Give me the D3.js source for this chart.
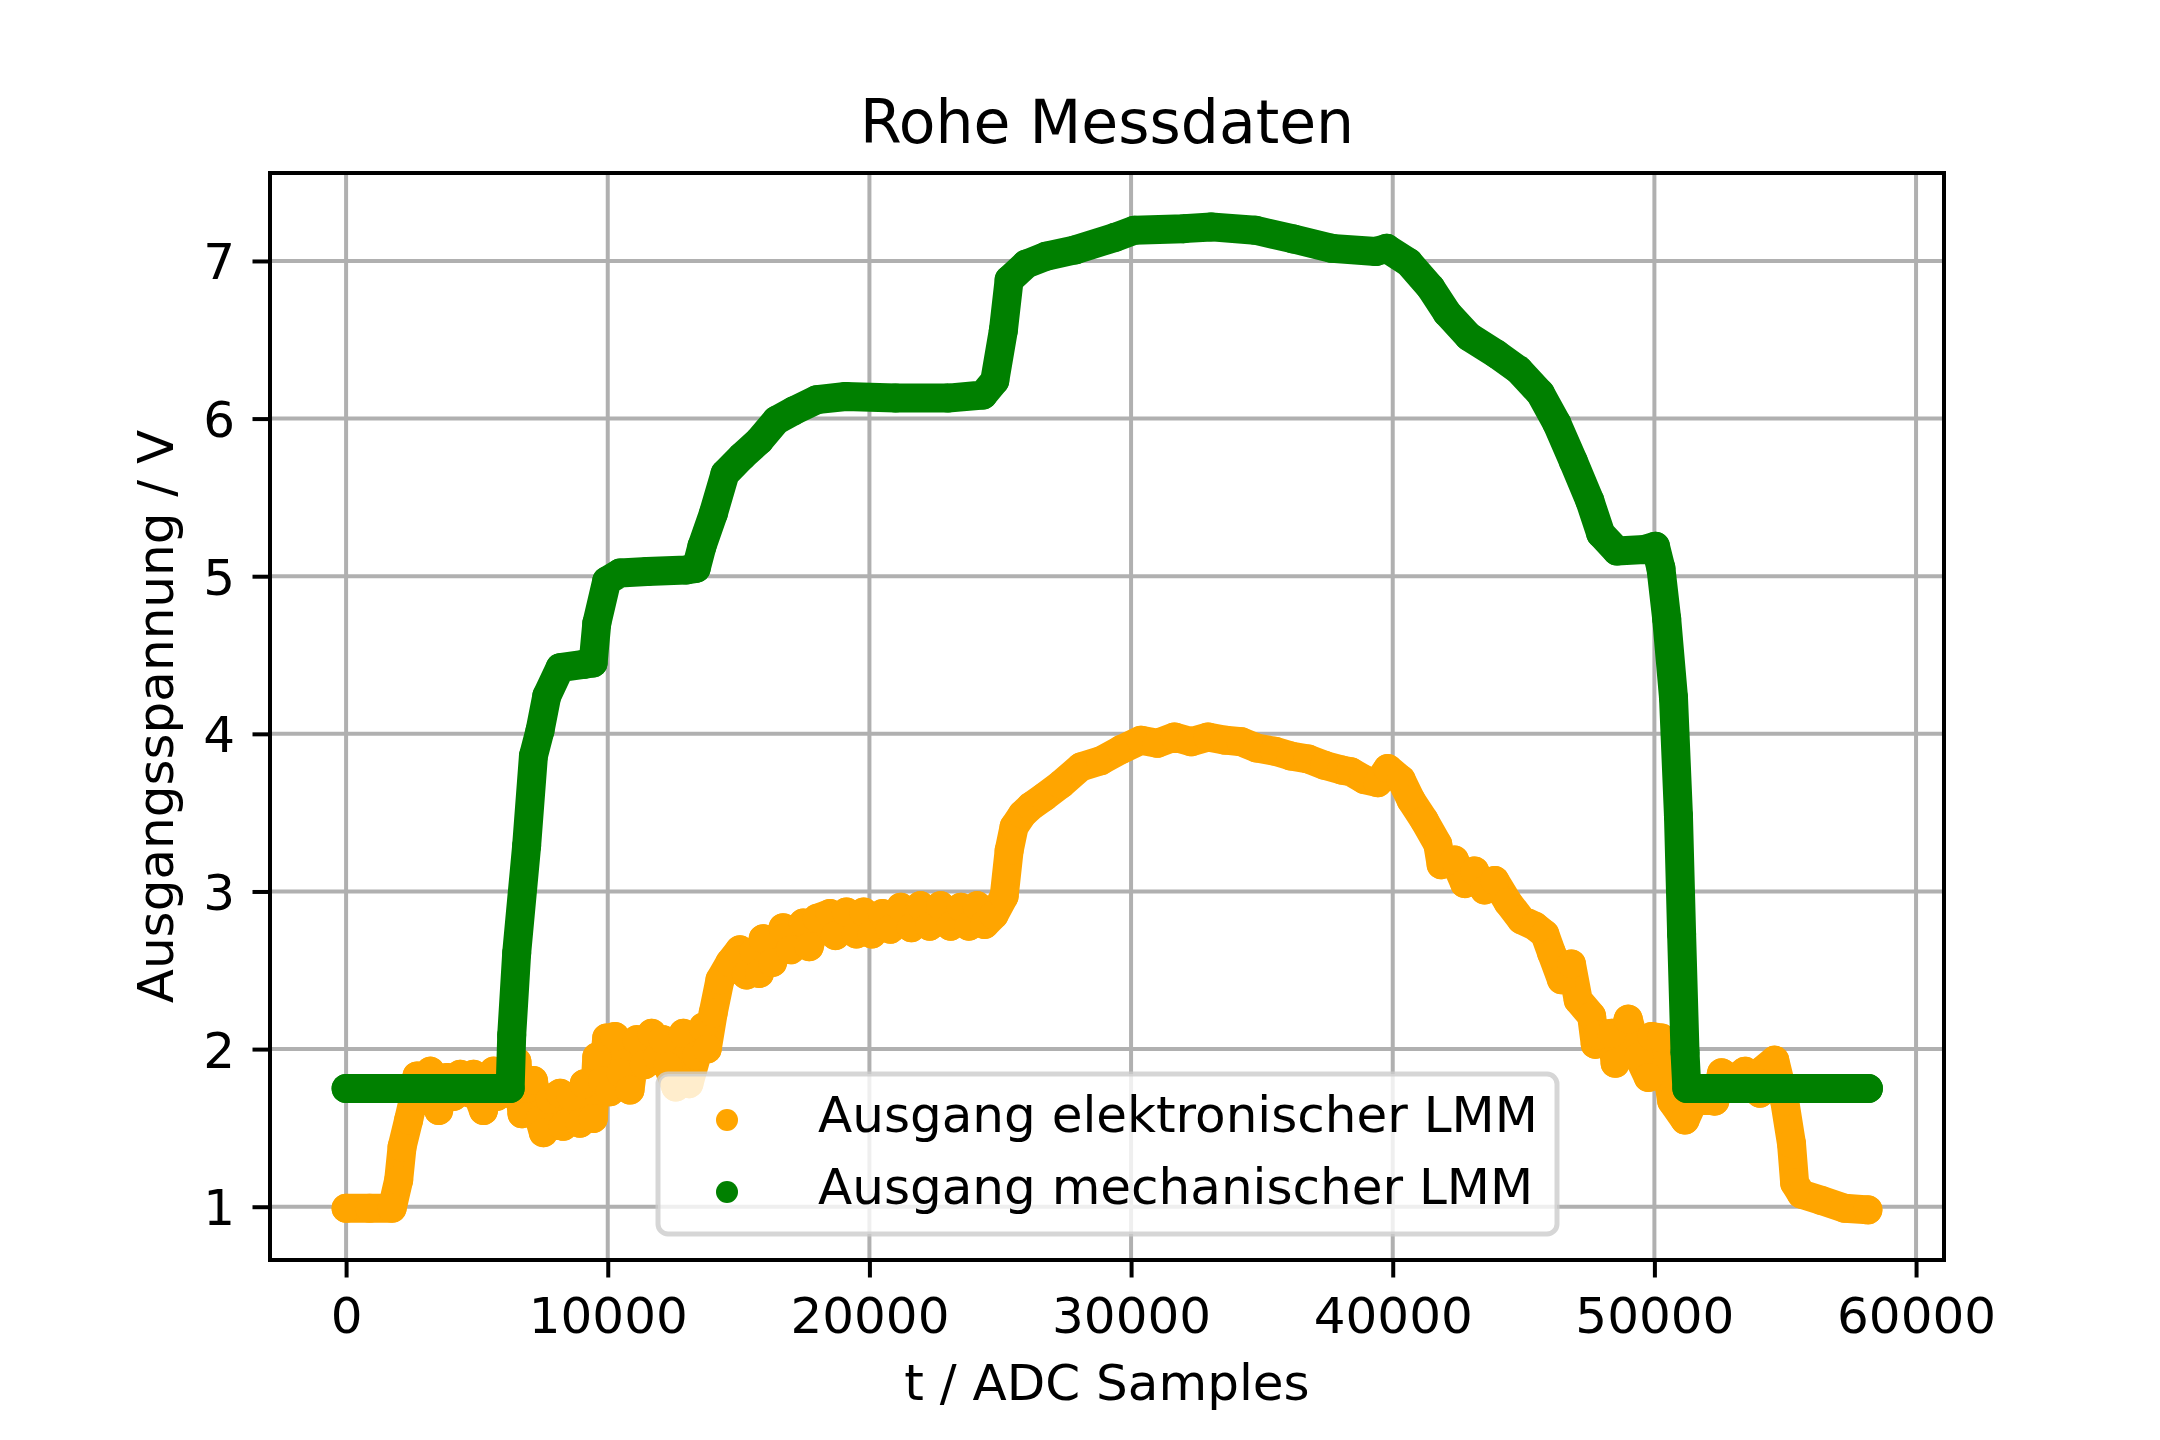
<!DOCTYPE html>
<html>
<head>
<meta charset="utf-8">
<script src="https://cdn.jsdelivr.net/npm/d3@7"></script>
<style>
  html, body { margin: 0; padding: 0; background: #ffffff; }
  svg { display: block; }
  text { font-family: "DejaVu Sans", sans-serif; fill: #000; }
</style>
</head>
<body>
<svg id="chart" width="2160" height="1440"></svg>
<script>
// ---------------- data ----------------
const chartTitle = "Rohe Messdaten";
const xLabel = "t / ADC Samples";
const yLabel = "Ausgangsspannung / V";
const seriesNames = ["Ausgang elektronischer LMM", "Ausgang mechanischer LMM"];
const seriesColors = ["#FFA500", "#008000"];

const xTicks = [0, 10000, 20000, 30000, 40000, 50000, 60000];
const yTicks = [1, 2, 3, 4, 5, 6, 7];
const xLimits = [-2908, 61068];
const yLimits = [0.662, 7.558];

// electronic LMM (orange)
const orangeT = [0, 900, 1760, 2010, 2140, 2390, 2600, 2710, 2900, 3220, 3540, 3700, 3850, 4100, 4360, 4750, 4870, 5050, 5250, 5450,
  5640, 5760, 6000, 6200, 6530, 6720, 6900, 7160, 7400, 7540, 7800, 8180, 8300, 8600, 8940, 9100, 9450, 9580, 9800, 9960,
  10090, 10280, 10500, 10850, 11110, 11400, 11680, 11900, 12120, 12300, 12600, 12890, 13100, 13400, 13650, 13800, 14030, 14290, 14670, 15050,
  15300, 15600, 15800, 15940, 16300, 16700, 17000, 17470, 17700, 18000, 18490, 18700, 19120, 19500, 19780, 20100, 20500, 20800, 21200, 21600,
  21950, 22300, 22720, 23100, 23500, 23800, 24120, 24400, 24760, 25150, 25340, 25530, 25850, 26170, 26680, 27320, 28080, 28850, 29620, 30380,
  31000, 31660, 32300, 32940, 33600, 34210, 34800, 35490, 36100, 36770, 37400, 38050, 38400, 38910, 39430, 39810, 40320, 40700, 41210, 41720,
  41850, 42360, 42750, 43130, 43510, 43900, 44410, 44920, 45430, 45810, 46070, 46450, 46830, 47090, 47600, 47740, 47850, 48370, 48500, 49000,
  49400, 49770, 49900, 50280, 50660, 51170, 51550, 52310, 52570, 53000, 53460, 54030, 54090, 54600, 54980, 55240, 55360, 55620, 56380, 57270, 58160];
const orangeV = [0.99, 0.99, 0.99, 1.17, 1.38, 1.55, 1.70, 1.83, 1.70, 1.86, 1.61, 1.80, 1.82, 1.70, 1.84, 1.72, 1.84, 1.70, 1.61, 1.78,
  1.86, 1.70, 1.78, 1.72, 1.92, 1.59, 1.75, 1.80, 1.55, 1.47, 1.68, 1.72, 1.51, 1.70, 1.53, 1.78, 1.56, 1.95, 1.80, 2.07,
  1.73, 2.08, 1.85, 1.74, 2.06, 1.90, 2.10, 1.95, 2.06, 1.89, 1.76, 2.10, 1.78, 1.96, 2.14, 2.00, 2.23, 2.44, 2.55, 2.63,
  2.47, 2.62, 2.48, 2.70, 2.55, 2.77, 2.63, 2.80, 2.65, 2.83, 2.86, 2.72, 2.87, 2.73, 2.87, 2.73, 2.86, 2.76, 2.90, 2.77,
  2.91, 2.78, 2.91, 2.78, 2.90, 2.78, 2.91, 2.79, 2.85, 2.97, 3.26, 3.41, 3.49, 3.54, 3.60, 3.68, 3.79, 3.83, 3.90, 3.96,
  3.94, 3.98, 3.95, 3.98, 3.96, 3.95, 3.91, 3.89, 3.86, 3.84, 3.80, 3.77, 3.76, 3.71, 3.69, 3.78, 3.71, 3.58, 3.45, 3.30,
  3.17, 3.20, 3.05, 3.13, 3.01, 3.07, 2.93, 2.82, 2.78, 2.73, 2.61, 2.44, 2.54, 2.31, 2.21, 2.03, 2.09, 2.10, 1.91, 2.19,
  1.95, 1.82, 2.08, 2.07, 1.67, 1.55, 1.69, 1.67, 1.85, 1.80, 1.86, 1.72, 1.86, 1.93, 1.67, 1.40, 1.15, 1.08, 1.04, 0.99, 0.98];

// mechanical LMM (green)
const greenT = [0, 3000, 6270, 6330, 6520, 6900, 7160, 7410, 7670, 8180, 9070, 9440, 9580, 9960, 10470, 11500, 13000, 13380, 13600, 14040,
  14480, 15130, 15790, 16450, 17110, 17990, 19090, 21000, 23000, 24340, 24790, 25120, 25340, 25990, 26750, 27860, 29390, 30130, 32010, 33060,
  34740, 36200, 37670, 39350, 39770, 40610, 41450, 42080, 42910, 43960, 44800, 45640, 46270, 46900, 47530, 47950, 48570, 49620, 50040, 50250,
  50470, 50730, 50920, 51040, 51170, 51240, 53000, 58180];
const greenV = [1.75, 1.75, 1.75, 2.09, 2.61, 3.29, 3.86, 4.02, 4.24, 4.42, 4.44, 4.45, 4.70, 4.97, 5.02, 5.03, 5.04, 5.05, 5.19, 5.40,
  5.65, 5.76, 5.86, 5.99, 6.05, 6.12, 6.14, 6.13, 6.13, 6.15, 6.24, 6.56, 6.88, 6.98, 7.03, 7.07, 7.15, 7.195, 7.205, 7.216,
  7.195, 7.14, 7.08, 7.06, 7.08, 6.99, 6.83, 6.67, 6.52, 6.41, 6.31, 6.16, 5.97, 5.73, 5.48, 5.27, 5.16, 5.17, 5.19, 5.05,
  4.73, 4.23, 3.48, 2.73, 1.98, 1.75, 1.75, 1.75];

// ---------------- layout ----------------
const W = 2160, H = 1440;
const plot = { left: 270, right: 1944, top: 173, bottom: 1260 };
const fontSize = 50;
const markerW = 29;

const svg = d3.select("#chart");
const x = d3.scaleLinear().domain(xLimits).range([plot.left, plot.right]);
const y = d3.scaleLinear().domain(yLimits).range([plot.bottom, plot.top]);

svg.append("defs").append("clipPath").attr("id", "clip")
  .append("rect").attr("x", plot.left).attr("y", plot.top)
  .attr("width", plot.right - plot.left).attr("height", plot.bottom - plot.top);

// grid
const grid = svg.append("g");
grid.selectAll("line.gx").data(xTicks).join("line")
  .attr("x1", d => x(d)).attr("x2", d => x(d))
  .attr("y1", plot.top).attr("y2", plot.bottom)
  .attr("stroke", "#b0b0b0").attr("stroke-width", 4);
grid.selectAll("line.gy").data(yTicks).join("line")
  .attr("y1", d => y(d)).attr("y2", d => y(d))
  .attr("x1", plot.left).attr("x2", plot.right)
  .attr("stroke", "#b0b0b0").attr("stroke-width", 4);

// series
const series = [
  { t: orangeT, v: orangeV, color: seriesColors[0] },
  { t: greenT, v: greenV, color: seriesColors[1] }
];
const line = d3.line().x(d => x(d[0])).y(d => y(d[1]));
const marks = svg.append("g").attr("clip-path", "url(#clip)");
series.forEach(s => {
  const pts = s.t.map((t, i) => [t, s.v[i]]);
  marks.append("path").datum(pts)
    .attr("d", line)
    .attr("fill", "none")
    .attr("stroke", s.color)
    .attr("stroke-width", markerW)
    .attr("stroke-linecap", "round")
    .attr("stroke-linejoin", "round");
  marks.selectAll(null).data(pts).join("circle")
    .attr("cx", d => x(d[0])).attr("cy", d => y(d[1]))
    .attr("r", markerW / 2).attr("fill", s.color);
});

// axes
const xAxis = d3.axisBottom(x).tickValues(xTicks).tickFormat(d3.format("d")).tickSize(17.5);
const gx = svg.append("g").attr("transform", `translate(0,${plot.bottom})`).call(xAxis);
gx.select(".domain").remove();
gx.selectAll(".tick line").attr("stroke", "#000").attr("stroke-width", 4);
gx.selectAll(".tick text").attr("y", 73).attr("dy", null)
  .style("font-family", "DejaVu Sans").style("font-size", fontSize + "px").attr("fill", "#000");

const yAxis = d3.axisLeft(y).tickValues(yTicks).tickFormat(d3.format("d")).tickSize(17.5);
const gy = svg.append("g").attr("transform", `translate(${plot.left},0)`).call(yAxis);
gy.select(".domain").remove();
gy.selectAll(".tick line").attr("stroke", "#000").attr("stroke-width", 4);
gy.selectAll(".tick text").attr("x", -35).attr("y", 18).attr("dy", null)
  .style("font-family", "DejaVu Sans").style("font-size", fontSize + "px").attr("fill", "#000");

// frame
svg.append("rect")
  .attr("x", plot.left).attr("y", plot.top)
  .attr("width", plot.right - plot.left).attr("height", plot.bottom - plot.top)
  .attr("fill", "none").attr("stroke", "#000").attr("stroke-width", 4);

// title and labels
svg.append("text").attr("x", (plot.left + plot.right) / 2).attr("y", 143)
  .attr("text-anchor", "middle").style("font-size", "60px").text(chartTitle);
svg.append("text").attr("x", (plot.left + plot.right) / 2).attr("y", 1400)
  .attr("text-anchor", "middle").style("font-size", fontSize + "px").text(xLabel);
svg.append("text")
  .attr("transform", `translate(173,${(plot.top + plot.bottom) / 2}) rotate(-90)`)
  .attr("text-anchor", "middle").style("font-size", fontSize + "px").text(yLabel);

// legend
const lg = svg.append("g");
lg.append("rect").attr("x", 658).attr("y", 1074).attr("width", 899).attr("height", 160)
  .attr("rx", 10).attr("ry", 10)
  .attr("fill", "#ffffff").attr("fill-opacity", 0.8)
  .attr("stroke", "#cccccc").attr("stroke-opacity", 0.8).attr("stroke-width", 5);
const legendRows = [1120, 1192];
seriesNames.forEach((name, i) => {
  lg.append("circle").attr("cx", 727).attr("cy", legendRows[i]).attr("r", 11).attr("fill", seriesColors[i]);
  lg.append("text").attr("x", 818).attr("y", legendRows[i] + 12)
    .style("font-size", fontSize + "px").text(name);
});
</script>
</body>
</html>
